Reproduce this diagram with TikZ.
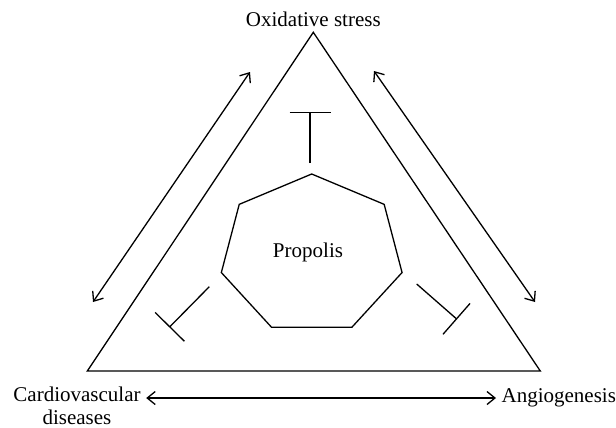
\documentclass[tikz,border=0pt]{standalone}
\usepackage{fontspec}
\setmainfont{Liberation Serif}
\usetikzlibrary{arrows.meta,positioning}

\begin{document}
\begin{tikzpicture}[x=0.5pt,y=0.5pt,line width=0.65pt,
  lbl/.style={inner sep=2.5pt,font=\fontsize{10.5}{11.5}\selectfont},
  both/.style={{Straight Barb[length=4pt,width=6.5pt]}-{Straight Barb[length=4pt,width=6.5pt]}},
  inhibit/.style={-{Bar[width=20.5pt]}}]
\useasboundingbox (0,0) rectangle (616,-428);
\coordinate (top) at (313.3,-32.3);
\coordinate (bl) at (87.3,-371);
\coordinate (br) at (540.3,-371);
\draw [black] (top) -- (bl) -- (br) -- cycle;
\node [lbl, above=0pt of top] (oxid) {Oxidative stress};
\node [lbl, align=center, anchor=north] (cardio) at (77,-381) {Cardiovascular\\diseases};
\node [lbl, anchor=base west] (angio) at (496,-402.7) {Angiogenesis};
\draw [black, both] (cardio.east |- angio.west) -- (angio.west);
\coordinate (oxL) at (250,-72);
\coordinate (cvL) at (93,-302);
\draw [black, both] (oxL) -- (cvL);
\coordinate (oxR) at (374,-71);
\coordinate (agR) at (535,-302);
\draw [black, both] (oxR) -- (agR);
\coordinate (hep) at (311.7,-254.6);
\draw [black, shift={(hep)}, xscale=1.15] (90:80.6)
  \foreach \k in {1,...,6} {-- (90+\k*360/7:80.6)} -- cycle;
\node [lbl] (propolis) at (308,-252.5) {Propolis};
\coordinate (inhOxS) at (310,-163);
\coordinate (inhOx) at (310,-112);
\draw [black, inhibit] (inhOxS) -- (inhOx);
\coordinate (inhCvS) at (209.3,-286.7);
\coordinate (inhCv) at (169.3,-327.3);
\draw [black, inhibit] (inhCvS) -- (inhCv);
\coordinate (inhAgS) at (416.7,-284);
\coordinate (inhAg) at (457,-319.3);
\draw [black, inhibit] (inhAgS) -- (inhAg);
\end{tikzpicture}
\end{document}
